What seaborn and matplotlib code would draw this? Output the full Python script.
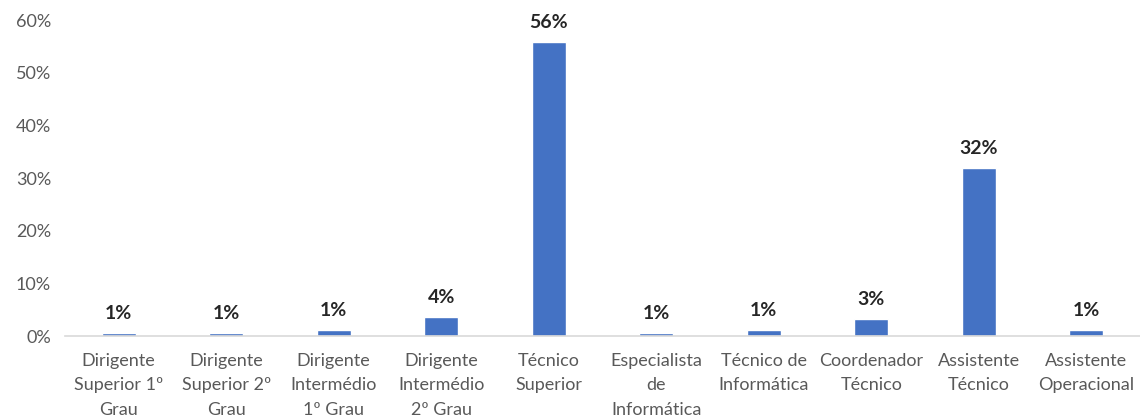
import matplotlib
matplotlib.use("Agg")
import matplotlib.pyplot as plt
import matplotlib.ticker as mtick
import pandas as pd
import seaborn as sns

# ─── DATA ───────────────────────────────────────────────────────
CATEGORIAS = [
    "Dirigente\nSuperior 1º\nGrau",
    "Dirigente\nSuperior 2º\nGrau",
    "Dirigente\nIntermédio\n1º Grau",
    "Dirigente\nIntermédio\n2º Grau",
    "Técnico\nSuperior",
    "Especialista\nde\nInformática",
    "Técnico de\nInformática",
    "Coordenador\nTécnico",
    "Assistente\nTécnico",
    "Assistente\nOperacional",
]
PERCENTAGENS = [0.006, 0.006, 0.011, 0.037, 0.558, 0.006, 0.011, 0.032, 0.319, 0.011]
Y_TICKS = [0, 0.1, 0.2, 0.3, 0.4, 0.5, 0.6]
# ────────────────────────────────────────────────────────────────

df = pd.DataFrame({"cat": CATEGORIAS, "pct": PERCENTAGENS})

sns.set_style("white")
plt.rcParams["font.family"] = ["Lato", "DejaVu Sans"]

fig = plt.figure(figsize=(11.4, 4.17), dpi=100)
ax = fig.add_axes([0.057, 0.194, 0.943, 0.758])

sns.barplot(data=df, x="cat", y="pct", color="#4472C4", saturation=1,
            width=0.32, ax=ax)

for i, v in enumerate(PERCENTAGENS):
    ax.annotate(f"{v:.0%}", (i, v), xytext=(0, 10), textcoords="offset points",
                ha="center", va="baseline", fontsize=14, fontweight="bold",
                color="#262626")

ax.set_ylim(0, 0.6)
ax.set_xlim(-0.5, len(CATEGORIAS) - 0.5)
ax.set_yticks(Y_TICKS)
ax.yaxis.set_major_formatter(mtick.PercentFormatter(1.0, decimals=0))
ax.set_xlabel("")
ax.set_ylabel("")

for s in ("top", "right", "left"):
    ax.spines[s].set_visible(False)
ax.spines["bottom"].set_color("#D9D9D9")
ax.spines["bottom"].set_linewidth(1.2)

ax.tick_params(axis="both", length=0, labelsize=13, labelcolor="#595959")
ax.tick_params(axis="y", pad=10)
ax.tick_params(axis="x", pad=12)
for lbl in ax.get_xticklabels():
    lbl.set_linespacing(1.65)

fig.savefig("out.png", dpi=100)
